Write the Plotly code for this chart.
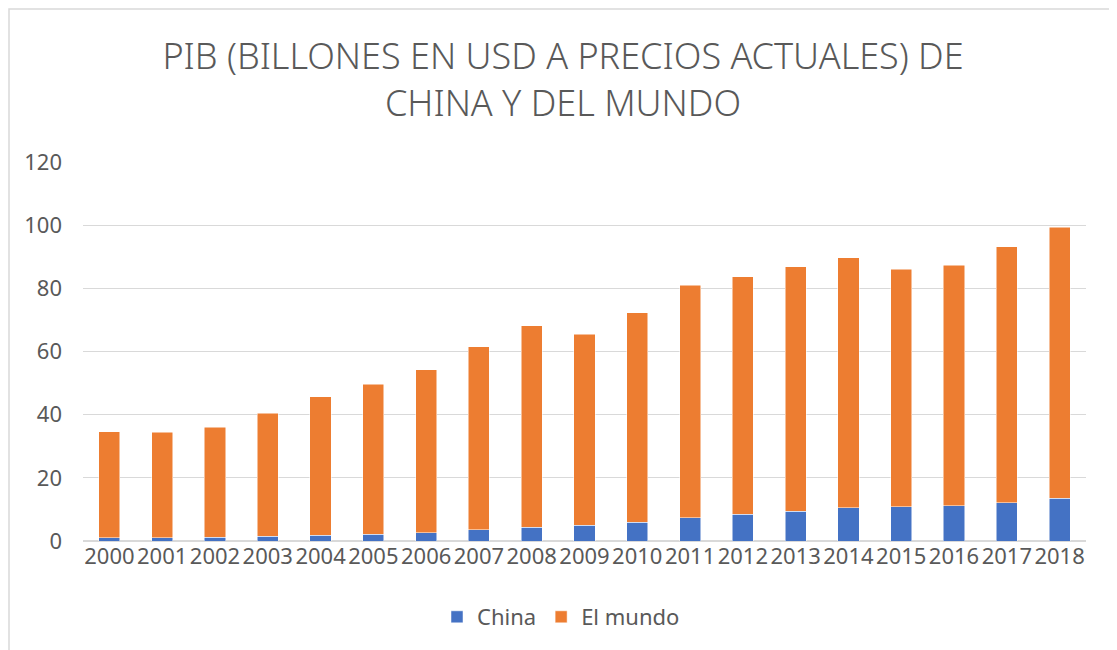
import plotly.graph_objects as go

years = [str(y) for y in range(2000, 2019)]
china = [1.0, 1.1, 1.2, 1.5, 1.8, 2.2, 2.6, 3.5, 4.4, 5.0, 6.0, 7.4, 8.5, 9.4, 10.5, 10.9, 11.1, 12.1, 13.6]
mundo = [33.6, 33.4, 34.8, 39.0, 43.9, 47.5, 51.6, 58.0, 63.8, 60.5, 66.2, 73.5, 75.1, 77.4, 79.2, 75.1, 76.2, 81.0, 85.8]
y_ticks = [0, 20, 40, 60, 80, 100, 120]

FONT = "Noto Sans"
GREY = "#595959"

fig = go.Figure()
fig.add_trace(go.Bar(x=years, y=china, name="China", marker=dict(color="#4472C4", line=dict(color="#FFFFFF", width=0.5))))
fig.add_trace(go.Bar(x=years, y=mundo, name="El mundo", marker=dict(color="#ED7D31", line=dict(color="#FFFFFF", width=0.5))))

# page is offset by ~8px (body margin); compensate
OFF = 8
L, R, T, B = 83 - OFF, 39, 162 - OFF, 117
W, H = 1117, 650
pw = W - L - R
ph = H - T - B

def fx(p):  # figure px -> paper
    return (p - L) / pw

def fy(p):
    return (H - B - p) / ph

def px_x(p):  # screen px -> paper
    return fx(p - OFF)

def px_y(p):
    return fy(p - OFF)

fig.update_layout(
    width=W, height=H,
    barmode="stack", bargap=0.6,
    margin=dict(l=L, r=R, t=T, b=B),
    paper_bgcolor="white", plot_bgcolor="white",
    font=dict(family=FONT, color=GREY, size=22),
    title=dict(text="PIB (BILLONES EN USD A PRECIOS ACTUALES) DE<br>CHINA Y DEL MUNDO",
               x=px_x(563), xanchor="center", xref="paper", y=1 - 61 / H, yanchor="middle",
               font=dict(family=FONT, size=36, color=GREY, weight=300)),
    xaxis=dict(showgrid=False, showline=False, ticks="", tickfont=dict(size=22, color=GREY)),
    yaxis=dict(range=[0, 120], tickvals=y_ticks, showgrid=True, gridcolor="#D9D9D9", gridwidth=1,
               zeroline=True, zerolinecolor="#D9D9D9", zerolinewidth=1.5,
               showline=False, ticks="", ticklabelstandoff=20, tickfont=dict(size=22, color=GREY)),
    legend=dict(orientation="h", x=px_x(561), xanchor="center", y=px_y(617), yanchor="middle",
                font=dict(size=22, color=GREY), itemwidth=30, traceorder="normal"),
    shapes=[dict(type="rect", xref="paper", yref="paper",
                 x0=fx(1), x1=fx(1106), y0=fy(H + 20), y1=fy(1),
                 line=dict(color="#D9D9D9", width=1.5), fillcolor="rgba(0,0,0,0)", layer="below")],
)

fig.write_html("out.html")
